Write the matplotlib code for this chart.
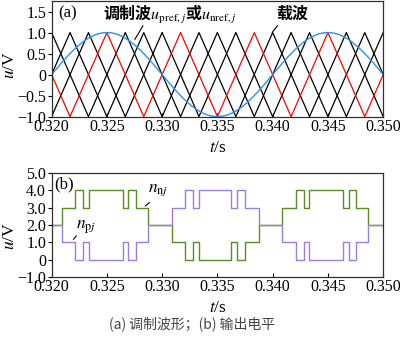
import numpy as np
import matplotlib.pyplot as plt

plt.rcParams['font.family'] = ['Liberation Serif', 'Noto Sans CJK SC']
plt.rcParams['mathtext.fontset'] = 'stix'
plt.rcParams['font.size'] = 11.5

# 时间范围与坐标刻度
t_start, t_end = 0.320, 0.350
x_ticks = [0.320, 0.325, 0.330, 0.335, 0.340, 0.345, 0.350]
y_ticks_a = [-1.0, -0.5, 0.0, 0.5, 1.0, 1.5]
y_labels_a = ['−1.0', '−0.5', '0', '0.5', '1.0', '1.5']
y_ticks_b = [-1.0, 0.0, 1.0, 2.0, 3.0, 4.0, 5.0]
y_labels_b = ['−1.0', '0', '1.0', '2.0', '3.0', '4.0', '5.0']

# 调制波与载波参数
f_ref = 50.0        # 调制波频率 / Hz
m_ref = 1.0         # 调制比
f_car = 150.0       # 载波频率 / Hz
n_car = 4           # 子模块数（载波个数）
red_peak = 0.325    # 红色载波峰值时刻
car_colors = ['red', 'black', 'black', 'black']

# 输出电平跳变时刻与电平
edges = [0.32096, 0.32211, 0.32286, 0.32340, 0.32648, 0.32693, 0.32762, 0.32873,
         0.33085, 0.33205, 0.33280, 0.33332, 0.33627, 0.33678, 0.33754, 0.33877,
         0.34085, 0.34209, 0.34284, 0.34329, 0.34637, 0.34688, 0.34757, 0.34862]
n_levels = [2, 3, 4, 3, 4, 3, 4, 3, 2, 1, 0, 1, 0, 1, 0, 1, 2,
            3, 4, 3, 4, 3, 4, 3, 2]
p_levels = [2, 1, 0, 1, 0, 1, 0, 1, 2, 3, 4, 3, 4, 3, 4, 3, 2,
            1, 0, 1, 0, 1, 0, 1, 2]

green = '#5b8e22'
purple = '#a07ddc'
frame = '#303030'

fig = plt.figure(figsize=(4.0, 3.42), dpi=100)
ax1 = fig.add_axes([0.129, 0.659, 0.829, 0.338])
ax2 = fig.add_axes([0.129, 0.190, 0.829, 0.304])

# (a) 调制波形
t = np.linspace(t_start, t_end, 6001)
Tc = 1.0 / f_car
order = list(range(1, n_car)) + [0]
for k in order:
    ph = ((t - red_peak - k * Tc / n_car) / Tc) % 1.0
    ax1.plot(t, 4 * np.abs(ph - 0.5) - 1, color=car_colors[k], lw=0.9)
u_ref = m_ref * np.sin(2 * np.pi * f_ref * t)
ax1.plot(t, u_ref, color='#2a93f0', lw=1.0)
ax1.set_ylim(-1.0, 1.75)
ax1.set_yticks(y_ticks_a)
ax1.set_yticklabels(y_labels_a)

ax1.text(0.019, 0.89, '(a)', transform=ax1.transAxes, ha='left', va='center', fontsize=12)
ax1.text(0.155, 0.885, r'调制波$u_{\mathrm{pref},j}$或$u_{\mathrm{nref},j}$',
         transform=ax1.transAxes, ha='left', va='center', fontsize=11.5,
         fontweight='bold', family=['Noto Sans CJK SC'])
ax1.text(0.678, 0.89, '载波', transform=ax1.transAxes, ha='left', va='center',
         fontsize=11.5, fontweight='bold', family=['Noto Sans CJK SC'])
t_lead = 0.3274
ax1.annotate('', xy=(t_lead, m_ref * np.sin(2 * np.pi * f_ref * t_lead) + 0.05),
             xytext=(0.3284, 1.22), arrowprops=dict(arrowstyle='-', color='black', lw=0.8))
ax1.annotate('', xy=(0.3398, 0.95), xytext=(0.3406, 1.22),
             arrowprops=dict(arrowstyle='-', color='black', lw=0.8))

# (b) 输出电平
ts = [t_start] + edges + [t_end]
ax2.step(ts, n_levels + [n_levels[-1]], where='post', color=green, lw=1.0)
ax2.step(ts, p_levels + [p_levels[-1]], where='post', color=purple, lw=1.0)
ax2.set_ylim(-1.0, 5.0)
ax2.set_yticks(y_ticks_b)
ax2.set_yticklabels(y_labels_b)

ax2.text(0.008, 0.89, '(b)', transform=ax2.transAxes, ha='left', va='center', fontsize=12)
ax2.text(0.32876, 4.0, r'$n_{\mathrm{n}j}$', ha='left', va='center', fontsize=12.5)
ax2.text(0.32225, 1.9, r'$n_{\mathrm{p}j}$', ha='left', va='center', fontsize=12.5)
ax2.annotate('', xy=(0.32828, 3.0), xytext=(0.32905, 3.4),
             arrowprops=dict(arrowstyle='-', color='black', lw=0.8))
ax2.annotate('', xy=(0.32181, 1.05), xytext=(0.32241, 1.5),
             arrowprops=dict(arrowstyle='-', color='black', lw=0.8))

for ax, ly in ((ax1, 0.447), (ax2, 0.394)):
    ax.set_xlim(t_start, t_end)
    ax.set_xticks(x_ticks)
    ax.set_xticklabels(['%.3f' % v for v in x_ticks])
    ax.tick_params(axis='x', direction='in', length=3, pad=1.5, width=0.8)
    ax.tick_params(axis='y', direction='out', length=3, pad=1, width=0.8)
    for s in ax.spines.values():
        s.set_color(frame)
        s.set_linewidth(0.9)
    ax.set_ylabel(r'$u$/V', fontsize=12.5, labelpad=0)
    ax.yaxis.set_label_coords(-0.1, ly)
    ax.set_xlabel(r'$t$/s', fontsize=12.5)

ax1.xaxis.set_label_coords(0.5, -0.2)
ax2.xaxis.set_label_coords(0.5, -0.22)

fig.text(0.48, 0.053, '(a) 调制波形；(b) 输出电平', ha='center', va='center',
         fontsize=10, color='#444444', family=['Noto Sans CJK SC'])

fig.savefig('out.png', dpi=100)
